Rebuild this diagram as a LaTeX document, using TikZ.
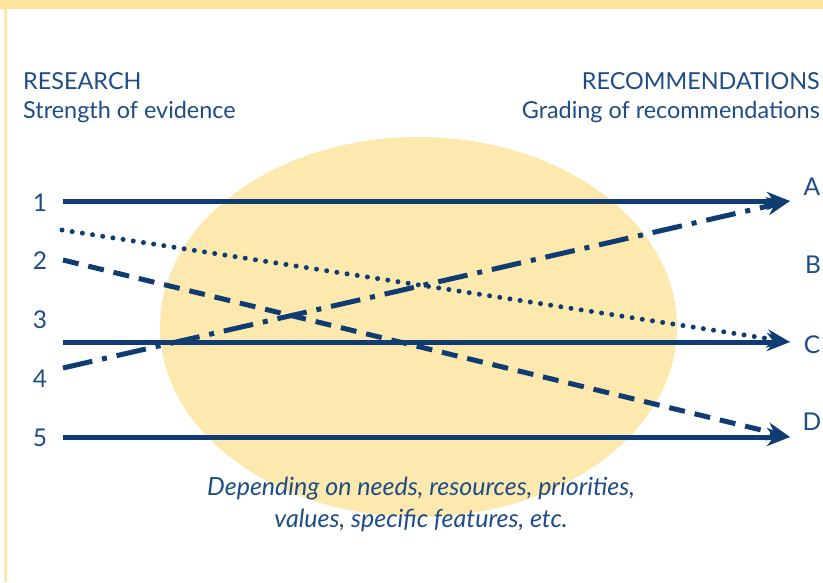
\documentclass[tikz,border=0pt]{standalone}
\usepackage{fontspec}
\setmainfont{Lato}
\usetikzlibrary{arrows.meta}
\definecolor{navy}{HTML}{0E3C73}
\definecolor{txtblue}{HTML}{1D4C86}
\definecolor{ell}{HTML}{FDE8AD}
\definecolor{band}{HTML}{FEE49C}
\definecolor{stripe}{HTML}{FEE8B0}
\begin{document}
\begin{tikzpicture}[x=1pt,y=-1pt,
  arr/.style={line width=5pt, draw=navy, -{Stealth[length=23pt,width=18pt,inset=7pt]}},
  lbl/.style={text=txtblue, font=\fontsize{23.4}{28}\selectfont, inner sep=0pt},
  sidelbl/.style={lbl, font=\fontsize{24.5}{28}\selectfont},
  ital/.style={lbl, font=\fontsize{25}{30}\selectfont\itshape},
  dotline/.style={dash pattern=on 0pt off 10.3pt, line cap=round},
  dashline/.style={dash pattern=on 16pt off 10pt},
  dashdotline/.style={dash pattern=on 30pt off 10pt on 5pt off 10pt}]
\useasboundingbox (0,0) rectangle (823,582);
\fill[white] (0,0) rectangle (823,582);
\fill[band] (0,0) rectangle (823,9);
\fill[stripe] (4,9) rectangle (7,582);
\fill[ell] (418.5,327) ellipse [x radius=258.5, y radius=190];

% headings
\node[lbl, anchor=base west] (res) at (23,89) {RESEARCH};
\node[lbl, anchor=base west] (str) at (23,118.5) {Strength of evidence};
\node[lbl, anchor=base east] (rec) at (820,89) {RECOMMENDATIONS};
\node[lbl, anchor=base east] (grd) at (820,118.5) {Grading of recommendations};

% numbers
\node[sidelbl, anchor=base] (n1) at (40,211) {1};
\node[sidelbl, anchor=base] (n2) at (40,269) {2};
\node[sidelbl, anchor=base] (n3) at (40,328) {3};
\node[sidelbl, anchor=base] (n4) at (40,387) {4};
\node[sidelbl, anchor=base] (n5) at (40,446) {5};

% letters
\node[sidelbl, anchor=base] (gA) at (812,195) {A};
\node[sidelbl, anchor=base] (gB) at (813,273) {B};
\node[sidelbl, anchor=base] (gC) at (812,353) {C};
\node[sidelbl, anchor=base] (gD) at (812,430) {D};

% arrow end points
\coordinate (s1) at (63,201);
\coordinate (sdot) at (62,230);
\coordinate (s2) at (63,260);
\coordinate (s3) at (63,342);
\coordinate (s4) at (63,368);
\coordinate (s5) at (63,437);
\coordinate (tA) at (790,201);
\coordinate (tC) at (790,342);
\coordinate (tD) at (790,437);

\draw[arr] (s1) -- (tA);
\draw[arr] (s3) -- (tC);
\draw[arr] (s5) -- (tD);
\draw[arr, dotline] (sdot) -- (tC);
\draw[arr, dashline] (s2) -- (tD);
\draw[arr, dashdotline] (s4) -- (tA);

% caption
\node[ital, anchor=base] (cap1) at (421,495) {Depending on needs, resources, priorities,};
\node[ital, anchor=base] (cap2) at (421,527) {values, specific features, etc.};
\end{tikzpicture}
\end{document}
